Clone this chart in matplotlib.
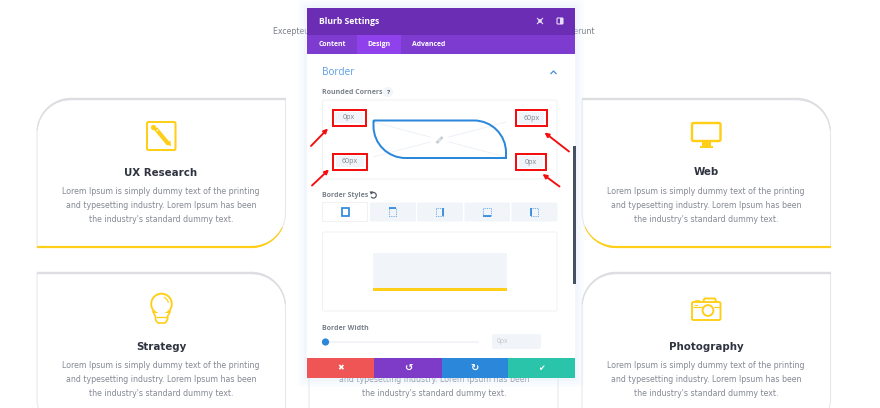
import matplotlib
matplotlib.use('Agg')
import numpy as np
import matplotlib.pyplot as plt
from matplotlib.collections import LineCollection
from matplotlib.patches import Rectangle, Circle, FancyBboxPatch, PathPatch, Arc, Polygon
from matplotlib.path import Path

# Content
card_titles = ['UX Research', 'Web', 'Strategy', 'Photography']
body_lines = ['Lorem Ipsum is simply dummy text of the printing',
              'and typesetting industry. Lorem Ipsum has been',
              "the industry's standard dummy text."]
intro_text = 'Excepteur sint occaecat cupidatat non proident, sunt in culpa qui officia deserunt'
panel_title = 'Blurb Settings'
tab_labels = ['Content', 'Design', 'Advanced']
corner_values = ['0px', '60px', '60px', '0px']
width_value = '0px'

YELLOW = '#ffcf17'
CARD_GRAY = '#dcdee1'
BODY = '#858994'
DARK = '#2f3440'
LABEL = '#7a818b'
BLUE = '#2b87da'
RED = '#f40f0f'
PALE = '#f1f5f9'
EDGE = '#eff2f5'
CARD_FONT = 'DejaVu Sans'
UI_FONT = 'Open Sans'

fig = plt.figure(figsize=(8.8, 4.08), dpi=100)
ax = fig.add_axes([0, 0, 1, 1])
ax.set_xlim(0, 880)
ax.set_ylim(408, 0)
ax.axis('off')


def px(w):
    return w * 0.72


def t(x, y, s, size, color, ha='center', weight='normal', family=UI_FONT, z=12):
    return ax.text(x, y, s, fontsize=px(size), color=color, ha=ha, va='center',
                   fontweight=weight, family=family, zorder=z)


def box(x0, y0, x1, y1, fc, ec='none', lw=0, z=10):
    ax.add_patch(Rectangle((x0, y0), x1 - x0, y1 - y0, fc=fc, ec=ec, lw=px(lw), zorder=z))


def rbox(x0, y0, x1, y1, r, fc='none', ec='none', lw=0, z=11):
    ax.add_patch(FancyBboxPatch((x0 + r, y0 + r), x1 - x0 - 2 * r, y1 - y0 - 2 * r,
                                boxstyle='round,pad=%f,rounding_size=%f' % (r, r),
                                fc=fc, ec=ec, lw=px(lw), zorder=z))


def line(xs, ys, color, lw, z=11, cap='butt'):
    ax.plot(xs, ys, color=color, lw=px(lw), zorder=z, solid_capstyle=cap)


def corner(p0, pc, p1):
    # bezier from p0 to p1 bending around the corner point pc
    k = 0.5523
    c0 = (p0[0] + (pc[0] - p0[0]) * k, p0[1] + (pc[1] - p0[1]) * k)
    c1 = (p1[0] + (pc[0] - p1[0]) * k, p1[1] + (pc[1] - p1[1]) * k)
    return [c0, c1, p1]


def outline(x0, y0, x1, y1, tl, tr, br, bl):
    verts = [(x0 + tl, y0)]
    codes = [Path.MOVETO]
    steps = [((x1 - tr, y0), (x1, y0), (x1, y0 + tr)),
             ((x1, y1 - br), (x1, y1), (x1 - br, y1)),
             ((x0 + bl, y1), (x0, y1), (x0, y1 - bl)),
             ((x0, y0 + tl), (x0, y0), (x0 + tl, y0))]
    for a, c, b in steps:
        verts.append(a)
        codes.append(Path.LINETO)
        verts += corner(a, c, b)
        codes += [Path.CURVE4] * 3
    return Path(verts, codes)


def taper_arc(cx, cy, r, a0, a1, color, w0, w1, z=2):
    # border colour fading thinner around a corner, like css mixed border widths
    ang = np.radians(np.linspace(a0, a1, 25))
    pts = np.column_stack([cx + r * np.cos(ang), cy + r * np.sin(ang)])
    segs = np.stack([pts[:-1], pts[1:]], axis=1)
    lc = LineCollection(segs, colors=color, linewidths=px(np.linspace(w0, w1, 24)),
                        capstyle='round', zorder=z)
    ax.add_collection(lc)


def card(x0, y0, x1, y1, tl, tr, br, bl, yellow):
    ax.add_patch(PathPatch(outline(x0, y0, x1, y1, tl, tr, br, bl), fc='white', ec='#e6e8ea',
                           lw=px(1.1), zorder=1))
    line([x0 + tl, x1 - tr], [y0, y0], CARD_GRAY, 2.4, z=2)
    if tl:
        taper_arc(x0 + tl, y0 + tl, tl, -90, -175, CARD_GRAY, 2.4, 1.0)
    if tr:
        taper_arc(x1 - tr, y0 + tr, tr, -90, -5, CARD_GRAY, 2.4, 1.0)
    if yellow:
        line([x0 + bl, x1 - br], [y1, y1], YELLOW, 2.2, z=3)
        if br:
            taper_arc(x1 - br, y1 - br, br, 90, 25, YELLOW, 2.2, 0.8, z=3)
        if bl:
            taper_arc(x0 + bl, y1 - bl, bl, 90, 155, YELLOW, 2.2, 0.8, z=3)


def card_text(cx, title, ty, ys, lines):
    if title:
        t(cx, ty, title, 10.2, DARK, weight='bold', family=CARD_FONT, z=4)
    for y, s in zip(ys, lines):
        t(cx, y, s, 7.93, BODY, family=CARD_FONT, z=4)


# Page behind the panel
t(434, 31, intro_text, 7.93, '#7b7f89', family=CARD_FONT, z=2)

card(37, 99, 285.5, 247, 34, 0, 34, 0, True)
card(582, 99, 830.5, 247, 0, 34, 0, 34, True)
card(37, 273, 285.5, 433, 0, 34, 0, 34, False)
card(582, 273, 830.5, 433, 34, 0, 34, 0, False)
card(309, 273, 558, 433, 0, 0, 0, 0, False)

card_text(161, card_titles[0], 172.5, [191.5, 205.5, 219.5], body_lines)
card_text(706, card_titles[1], 172, [191.5, 205.5, 219.5], body_lines)
card_text(161, card_titles[2], 346.5, [365, 379, 393], body_lines)
card_text(706, card_titles[3], 346.5, [366, 380, 393.5], body_lines)
card_text(434, None, 0, [380, 393], body_lines[1:])

# Card icons
rbox(147, 122, 175.5, 150, 1.5, ec=YELLOW, lw=2, z=4)
line([155.5, 168.5], [128.5, 144], YELLOW, 4.2, z=4)
ax.add_patch(Polygon([(166, 144.5), (170.5, 140.5), (171, 146)], fc=YELLOW, zorder=4))
ax.add_patch(Circle((153.5, 127.5), 2.6, fc=YELLOW, ec='none', zorder=4))
line([156.5, 158.2], [131.3, 129.7], 'white', 0.9, z=5)

rbox(692, 123, 720.5, 141, 1.5, ec=YELLOW, lw=2.4, z=4)
box(702, 142, 711, 146, YELLOW, z=4)
box(699.5, 145.5, 713, 148, YELLOW, z=4)

ax.add_patch(Circle((161.5, 304), 10.3, fc='none', ec=YELLOW, lw=px(1.9), zorder=4))
box(155, 313, 168, 322, 'white', z=4)
line([152.5, 155.5, 155.5], [311, 316.5, 320], YELLOW, 1.7, z=5)
line([170.5, 167.5, 167.5], [311, 316.5, 320], YELLOW, 1.7, z=5)
line([155.5, 167.5], [317, 317], YELLOW, 1.3, z=5)
line([155.5, 158, 165, 167.5], [320, 323, 323, 320], YELLOW, 1.7, z=5)
ax.add_patch(Arc((161.5, 304), 14, 14, theta1=-70, theta2=-10, ec=YELLOW, lw=px(1.2), zorder=5))

rbox(692, 302, 720.5, 320, 1.5, ec=YELLOW, lw=1.9, z=4)
line([703, 704.5, 715, 716.5], [302, 298.5, 298.5, 302], YELLOW, 1.9, z=5)
line([695, 700], [300.8, 300.8], YELLOW, 1.6, z=5)
line([693, 702.5], [307, 307], YELLOW, 1.2, z=4)
line([713.5, 720], [307, 307], YELLOW, 1.2, z=4)
ax.add_patch(Circle((708, 310.5), 5.4, fc='white', ec=YELLOW, lw=px(1.9), zorder=5))
box(695, 304.5, 697.5, 305.7, YELLOW, z=5)

# Panel shadow and body
for grow, alpha in [(9, 0.10), (6, 0.14), (3, 0.20)]:
    rbox(307 - grow, 8 - grow, 575 + grow, 378 + grow, 4, fc='#d8ebfb', z=9)
    ax.patches[-1].set_alpha(alpha)
box(307, 8, 575, 378, 'white')

# Header
box(307, 8, 575, 35, '#6a2db3', z=11)
box(307, 35, 575, 54, '#7d3bd0', z=11)
box(357, 35, 401, 54, '#8f42ec', z=11)
t(319, 21.5, panel_title, 8.7, 'white', ha='left', weight='bold')
for x, s in zip([332, 379, 429], tab_labels):
    t(x, 44.5, s, 6.9, 'white', weight='bold')
# expand and split icons
line([537, 543], [18, 24], '#e6dcf5', 1.1, z=12)
line([537, 543], [24, 18], '#e6dcf5', 1.1, z=12)
ax.add_patch(Circle((540, 21), 1.8, fc='#e6dcf5', zorder=13))
rbox(557, 18, 563, 24, 0.8, fc='#6a2db3', ec='#e6dcf5', lw=1.1, z=12)
box(560, 18, 563, 24, '#e6dcf5', z=13)

# Border section
t(322, 72.5, 'Border', 10, '#5b9fe3', ha='left')
line([550.5, 553.5, 556.5], [74, 71, 74], '#4d92d9', 1.3)
t(322, 92.5, 'Rounded Corners', 7, LABEL, ha='left', weight='bold')
ax.add_patch(Circle((388, 92), 5, fc=PALE, zorder=11))
t(388, 92, '?', 6.5, '#4f5864', weight='bold')

rbox(322.5, 100, 557, 179, 2, fc='white', ec=EDGE, lw=1)
line([373, 506], [122, 157], '#edf2f8', 1)
line([373, 506], [157, 122], '#edf2f8', 1)
ax.add_patch(Circle((439.5, 140), 9, fc='white', zorder=11))
line([436.5, 442.5], [143, 137], '#c6ccd3', 2.6, z=12)
line([438.5, 440.5], [141, 139], 'white', 0.8, z=13)
ax.add_patch(PathPatch(outline(373.5, 120.5, 506, 158, 0, 32, 0, 32), fc='none', ec=BLUE,
                       lw=px(2), zorder=12))

# Corner inputs with the red call-outs
input_boxes = [(332.5, 109.5, 365.5, 125.5), (516, 109.5, 546.5, 126), (333, 153.5, 366.5, 169.5), (516, 153.5, 545.5, 170)]
for (x0, y0, x1, y1), s in zip(input_boxes, corner_values):
    box(x0 + 2.5, y0 + 2.5, x1 - 2.5, y1 - 2.5, PALE, z=11)
    box(x0, y0, x1, y1, 'none', ec=RED, lw=2, z=13)
    t((x0 + x1) / 2, (y0 + y1) / 2 + 0.3, s, 7, '#7d858f')
for start, end in [((311, 146), (328, 128.5)), ((569, 151.5), (544.5, 132.5)),
                   ((312, 185.5), (329, 169.5)), ((559.5, 186.5), (542.5, 174))]:
    ax.annotate('', xy=end, xytext=start, zorder=14,
                arrowprops=dict(arrowstyle='-|>', color=RED, lw=px(1.9), mutation_scale=6,
                                shrinkA=0, shrinkB=0))

# Scrollbar
box(572.5, 146, 575.5, 284, '#47525f', z=13)

# Border styles
t(322, 195.5, 'Border Styles', 7, LABEL, ha='left', weight='bold')
ax.add_patch(Arc((373.5, 195.3), 5.5, 5.5, theta1=-150, theta2=150, ec='#4f5864', lw=px(1.2), zorder=12))
ax.add_patch(Polygon([(369.5, 191.5), (373.5, 191.3), (371, 194.5)], fc='#4f5864', zorder=12))
rbox(322.5, 202.5, 367.5, 221.5, 1, fc='white', ec=EDGE, lw=1)
for x0, x1 in [(370, 416), (417, 463), (464.5, 510), (511.5, 557.5)]:
    rbox(x0, 202.5, x1, 221.5, 1, fc=PALE)
style_x = [345.5, 392.5, 439.5, 487, 534.5]
# which side of each small square is drawn solid (all, top, right, bottom, left)
style_solid = ['all', 'top', 'right', 'bottom', 'left']
for x, side in zip(style_x, style_solid):
    x0, x1, y0, y1 = x - 3.8, x + 3.8, 208, 216
    if side == 'all':
        box(x0, y0, x1, y1, 'none', ec=BLUE, lw=1.7, z=12)
        continue
    ax.add_patch(Rectangle((x0, y0), x1 - x0, y1 - y0, fc='none', ec='#5aa2e6', lw=px(0.9),
                           ls=(0, (1, 1)), zorder=12))
    if side == 'top':
        line([x0, x1], [y0, y0], BLUE, 1.7, z=13)
    if side == 'right':
        line([x1, x1], [y0, y1], BLUE, 1.7, z=13)
    if side == 'bottom':
        line([x0, x1], [y1, y1], BLUE, 1.7, z=13)
    if side == 'left':
        line([x0, x0], [y0, y1], BLUE, 1.7, z=13)

rbox(322.5, 232, 557, 311, 2, fc='white', ec=EDGE, lw=1)
box(373, 253, 507, 288, '#f1f4f8', z=11)
box(372.5, 288, 507, 290.5, YELLOW, z=12)

# Border width slider
t(322, 328, 'Border Width', 7, LABEL, ha='left', weight='bold')
line([328, 479], [342, 342], '#eef1f5', 1.5)
ax.add_patch(Circle((325.5, 342), 3.6, fc=BLUE, zorder=12))
rbox(492, 334, 541, 349, 2, fc=PALE)
t(497, 341.5, width_value, 6.6, '#c0c6cd', ha='left')

# Footer buttons
box(307, 358, 374, 378, '#ef5555', z=11)
box(374, 358, 442, 378, '#7e3bc8', z=11)
box(442, 358, 508, 378, BLUE, z=11)
box(508, 358, 575, 378, '#29c4a9', z=11)
t(341, 368, '\u2716', 8, 'white', family='DejaVu Sans')
t(408, 368, '\u21ba', 10, 'white', weight='bold', family='DejaVu Sans')
t(475, 368, '\u21bb', 10, 'white', weight='bold', family='DejaVu Sans')
t(541.5, 368, '\u2714', 8, 'white', family='DejaVu Sans')

fig.savefig('out.png', dpi=100)
